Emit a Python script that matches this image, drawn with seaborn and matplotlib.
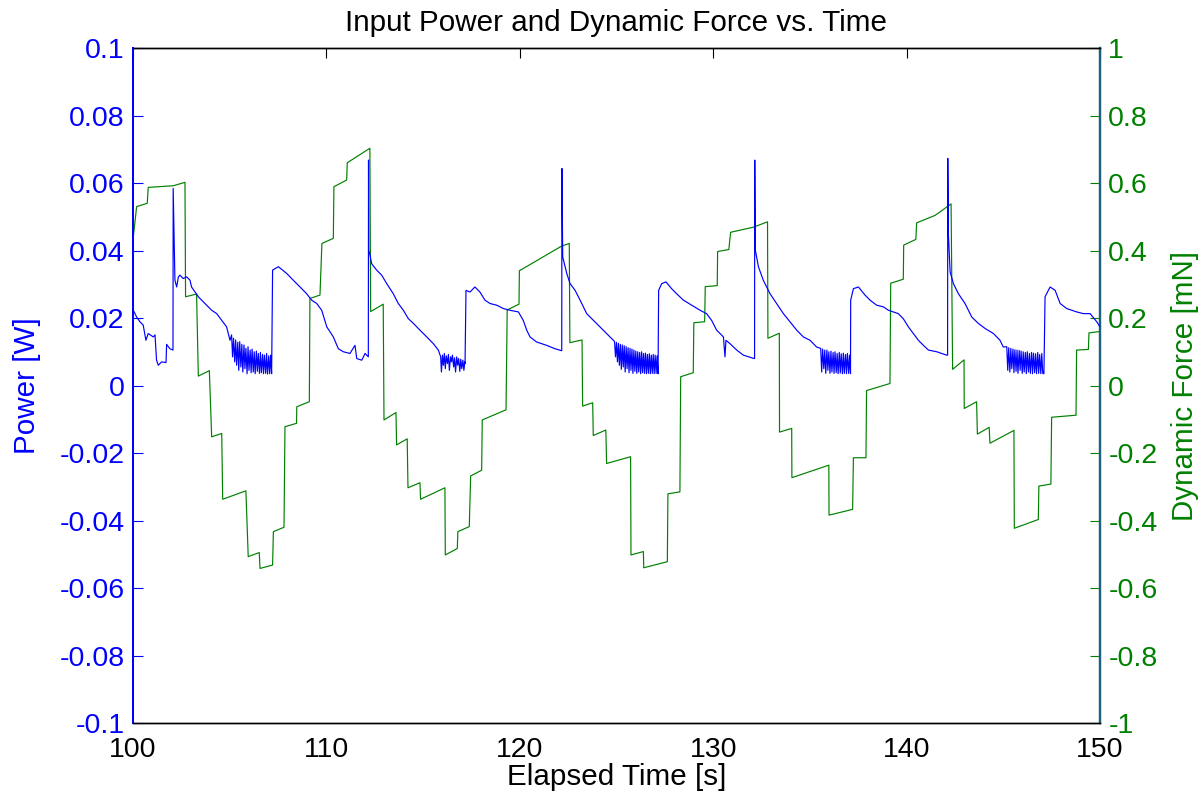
import matplotlib
matplotlib.use("Agg")
import matplotlib.pyplot as plt
import seaborn as sns
import pandas as pd
import numpy as np

# ---------------- data ----------------
force_time = [100.0, 100.19, 100.74, 100.79, 102.09, 102.69, 102.72, 103.29, 103.38, 103.95,
              104.07, 104.59, 104.64, 105.84, 105.96, 106.53, 106.57, 107.22, 107.26, 107.81,
              107.86, 108.46, 108.47, 109.12, 109.15, 109.67, 109.77, 110.36, 110.39, 111.05,
              111.08, 112.25, 112.29, 112.94, 112.98, 113.60, 113.63, 114.18, 114.22, 114.84,
              114.87, 116.13, 116.15, 116.77, 116.80, 117.39, 117.46, 118.03, 118.06, 119.29,
              119.35, 119.96, 119.98, 122.16, 122.56, 122.59, 123.22, 123.25, 123.77, 123.80,
              124.45, 124.49, 125.73, 125.75, 126.39, 126.41, 127.63, 127.66, 128.28, 128.32,
              128.97, 129.00, 129.56, 129.59, 130.21, 130.23, 130.81, 130.90, 132.07, 132.81,
              132.83, 133.42, 133.43, 134.06, 134.07, 135.98, 135.99, 137.21, 137.25, 137.90,
              137.93, 139.14, 139.18, 139.83, 139.85, 140.48, 140.52, 141.47, 142.30, 142.38,
              142.97, 142.98, 143.62, 143.66, 144.27, 144.31, 145.55, 145.57, 146.81, 146.84,
              147.46, 147.50, 148.76, 148.79, 149.40, 149.43, 150.0]
force_value = [0.431, 0.530, 0.540, 0.587, 0.592, 0.602, 0.263, 0.271, 0.028, 0.044,
               -0.152, -0.142, -0.337, -0.312, -0.507, -0.495, -0.542, -0.532, -0.433, -0.420,
               -0.122, -0.112, -0.063, -0.048, 0.258, 0.268, 0.421, 0.436, 0.589, 0.609,
               0.660, 0.703, 0.219, 0.241, -0.102, -0.080, -0.176, -0.158, -0.303, -0.288,
               -0.337, -0.303, -0.502, -0.483, -0.433, -0.418, -0.268, -0.251, -0.102, -0.072,
               0.224, 0.241, 0.340, 0.413, 0.421, 0.127, 0.135, -0.061, -0.051, -0.148,
               -0.132, -0.231, -0.211, -0.502, -0.492, -0.540, -0.522, -0.321, -0.315, 0.026,
               0.038, 0.186, 0.189, 0.293, 0.296, 0.397, 0.403, 0.454, 0.469, 0.485,
               0.140, 0.155, -0.138, -0.127, -0.273, -0.236, -0.384, -0.367, -0.214, -0.214,
               -0.015, 0.006, 0.303, 0.315, 0.416, 0.433, 0.482, 0.504, 0.538, 0.048,
               0.076, -0.068, -0.048, -0.144, -0.124, -0.171, -0.133, -0.423, -0.397, -0.298,
               -0.292, -0.094, -0.088, 0.105, 0.107, 0.156, 0.160]

power_time = [
    # cycle 1
    100.0, 100.02, 100.19, 100.36, 100.53, 100.67, 100.79, 101.05, 101.14, 101.22, 101.31,
    101.48, 101.71, 101.74, 101.91, 102.07, 102.08, 102.17, 102.26, 102.35, 102.43, 102.60,
    102.78, 102.95, 103.03, 103.21, 103.38, 103.55, 103.81, 104.07, 104.33, 104.59, 104.84,
    105.02, 105.10, 105.15, 105.20, 105.26, 105.31, 105.36, 105.42, 105.47, 105.52, 105.58,
    105.63, 105.68, 105.74, 105.79, 105.84, 105.90, 105.95, 106.00, 106.06, 106.11, 106.16,
    106.22, 106.27, 106.32, 106.38, 106.43, 106.48, 106.54, 106.59, 106.64, 106.70, 106.75,
    106.80, 106.86, 106.91, 106.96, 107.02, 107.07, 107.12, 107.17,
    107.22, 107.52, 107.95, 108.29, 108.64, 108.98, 109.24, 109.50, 109.76, 110.02, 110.36,
    110.62, 110.88, 111.22, 111.48, 111.57, 111.83, 112.00, 112.17, 112.18, 112.19,
    112.26, 112.34, 112.60,
    # cycle 2
    112.86, 113.12, 113.46, 113.72, 113.98, 114.24, 114.50, 114.84, 115.19, 115.53, 115.79,
    115.91, 115.95, 116.00, 116.05, 116.10, 116.15, 116.20, 116.26, 116.31, 116.36, 116.42,
    116.47, 116.52, 116.58, 116.63, 116.68, 116.74, 116.79, 116.84, 116.90, 116.95, 117.00,
    117.06, 117.11, 117.16, 117.17,
    117.22, 117.43, 117.68, 117.94, 118.20, 118.46, 118.81, 119.15, 119.49, 119.93, 120.18,
    120.36, 120.53, 120.87, 121.39, 121.82, 122.17, 122.18, 122.22, 122.43, 122.60, 122.86,
    123.12, 123.46, 123.81, 124.15, 124.49, 124.84,
    124.90, 124.95, 125.00, 125.05, 125.10, 125.15, 125.20, 125.25, 125.30, 125.35, 125.40,
    125.45, 125.50, 125.55, 125.60, 125.65, 125.70, 125.75, 125.80, 125.85, 125.90, 125.95,
    126.00, 126.05, 126.10, 126.15, 126.20, 126.25, 126.30, 126.35, 126.40, 126.45, 126.50,
    126.55, 126.60, 126.65, 126.70, 126.75, 126.80, 126.85, 126.90, 126.95, 127.00, 127.05,
    127.10, 127.15,
    # cycle 3
    127.18, 127.34, 127.56, 127.85, 128.11, 128.46, 128.89, 129.32, 129.66, 129.92, 130.18,
    130.53, 130.61, 130.66, 130.87, 131.22, 131.56, 132.11, 132.14, 132.15, 132.18, 132.34,
    132.59, 132.94, 133.28, 133.63, 133.97, 134.32, 134.66, 135.01, 135.35,
    135.56, 135.61, 135.66, 135.72, 135.77, 135.82, 135.88, 135.93, 135.98, 136.04, 136.09,
    136.14, 136.20, 136.25, 136.30, 136.36, 136.41, 136.46, 136.52, 136.57, 136.62, 136.68,
    136.73, 136.78, 136.84, 136.89, 136.94, 137.00, 137.05, 137.10,
    137.11, 137.25, 137.51, 137.85, 138.11, 138.45, 138.80, 139.06, 139.32, 139.57, 139.83,
    140.09, 140.35, 140.61, 140.87, 141.13, 141.56, 142.07, 142.12, 142.13, 142.16, 142.25,
    142.42, 142.68, 143.02, 143.37, 143.71, 144.06, 144.49, 144.83, 145.00,
    145.18, 145.23, 145.28, 145.34, 145.39, 145.44, 145.50, 145.55, 145.60, 145.66, 145.71,
    145.76, 145.82, 145.87, 145.92, 145.98, 146.03, 146.08, 146.14, 146.19, 146.24, 146.30,
    146.35, 146.40, 146.46, 146.51, 146.56, 146.62, 146.67, 146.72, 146.78, 146.83, 146.88,
    146.94, 146.99, 147.04, 147.10,
    147.16, 147.42, 147.68, 147.94, 148.28, 148.80, 149.14, 149.49, 149.83, 150.0]
power_value = [
    0.0215, 0.0223, 0.0203, 0.0189, 0.0179, 0.0134, 0.0154, 0.0144, 0.0150, 0.0075, 0.0060,
    0.0070, 0.0068, 0.0122, 0.0109, 0.0105, 0.0584, 0.0312, 0.0292, 0.0322, 0.0327, 0.0317,
    0.0322, 0.0312, 0.0292, 0.0277, 0.0263, 0.0253, 0.0238, 0.0223, 0.0213, 0.0193, 0.0174,
    0.0134, 0.0150, 0.0085, 0.0140, 0.0070, 0.0135, 0.0060, 0.0128, 0.0045, 0.0130, 0.0055,
    0.0122, 0.0040, 0.0120, 0.0050, 0.0110, 0.0035, 0.0115, 0.0045, 0.0105, 0.0038, 0.0108,
    0.0040, 0.0100, 0.0035, 0.0102, 0.0042, 0.0095, 0.0036, 0.0098, 0.0038, 0.0092, 0.0035,
    0.0090, 0.0036, 0.0095, 0.0034, 0.0088, 0.0035, 0.0090, 0.0035,
    0.0342, 0.0352, 0.0332, 0.0312, 0.0292, 0.0272, 0.0253, 0.0243, 0.0223, 0.0174, 0.0144,
    0.0109, 0.0100, 0.0095, 0.0119, 0.0080, 0.0075, 0.0095, 0.0085, 0.0668, 0.0401,
    0.0386, 0.0361, 0.0342,
    0.0327, 0.0302, 0.0272, 0.0243, 0.0223, 0.0198, 0.0184, 0.0164, 0.0144, 0.0124, 0.0105,
    0.0085, 0.0040, 0.0090, 0.0060, 0.0095, 0.0050, 0.0088, 0.0065, 0.0092, 0.0045, 0.0085,
    0.0070, 0.0090, 0.0055, 0.0082, 0.0040, 0.0085, 0.0060, 0.0080, 0.0042, 0.0078, 0.0050,
    0.0075, 0.0045, 0.0070, 0.0065,
    0.0282, 0.0277, 0.0292, 0.0277, 0.0253, 0.0243, 0.0238, 0.0228, 0.0223, 0.0218, 0.0193,
    0.0164, 0.0144, 0.0129, 0.0119, 0.0109, 0.0103, 0.0643, 0.0381, 0.0332, 0.0302, 0.0282,
    0.0253, 0.0213, 0.0193, 0.0174, 0.0154, 0.0134,
    0.0130, 0.0085, 0.0128, 0.0070, 0.0125, 0.0060, 0.0122, 0.0048, 0.0120, 0.0055, 0.0118,
    0.0040, 0.0115, 0.0050, 0.0112, 0.0038, 0.0110, 0.0045, 0.0108, 0.0036, 0.0105, 0.0042,
    0.0102, 0.0036, 0.0100, 0.0040, 0.0098, 0.0035, 0.0100, 0.0038, 0.0095, 0.0036, 0.0096,
    0.0035, 0.0092, 0.0036, 0.0094, 0.0035, 0.0090, 0.0036, 0.0092, 0.0035, 0.0090, 0.0036,
    0.0088, 0.0035,
    0.0282, 0.0302, 0.0307, 0.0287, 0.0272, 0.0253, 0.0238, 0.0223, 0.0213, 0.0193, 0.0164,
    0.0144, 0.0085, 0.0134, 0.0124, 0.0105, 0.0090, 0.0080, 0.0080, 0.0668, 0.0401, 0.0352,
    0.0312, 0.0272, 0.0243, 0.0213, 0.0189, 0.0164, 0.0144, 0.0134, 0.0114,
    0.0110, 0.0040, 0.0108, 0.0050, 0.0105, 0.0036, 0.0105, 0.0045, 0.0100, 0.0036, 0.0102,
    0.0040, 0.0098, 0.0036, 0.0100, 0.0038, 0.0095, 0.0035, 0.0098, 0.0037, 0.0094, 0.0035,
    0.0096, 0.0036, 0.0092, 0.0035, 0.0095, 0.0036, 0.0090, 0.0035,
    0.0253, 0.0287, 0.0292, 0.0268, 0.0253, 0.0238, 0.0233, 0.0223, 0.0218, 0.0213, 0.0198,
    0.0174, 0.0154, 0.0134, 0.0119, 0.0105, 0.0100, 0.0090, 0.0090, 0.0673, 0.0450, 0.0337,
    0.0302, 0.0272, 0.0243, 0.0203, 0.0184, 0.0169, 0.0154, 0.0134, 0.0114,
    0.0115, 0.0045, 0.0112, 0.0040, 0.0110, 0.0050, 0.0108, 0.0038, 0.0106, 0.0042, 0.0105,
    0.0036, 0.0104, 0.0045, 0.0102, 0.0036, 0.0100, 0.0040, 0.0098, 0.0035, 0.0100, 0.0040,
    0.0095, 0.0036, 0.0098, 0.0035, 0.0096, 0.0038, 0.0094, 0.0035, 0.0098, 0.0036, 0.0092,
    0.0035, 0.0095, 0.0036, 0.0035,
    0.0263, 0.0292, 0.0282, 0.0243, 0.0228, 0.0218, 0.0213, 0.0213, 0.0189, 0.0174]

power_ticks = [-0.1, -0.08, -0.06, -0.04, -0.02, 0, 0.02, 0.04, 0.06, 0.08, 0.1]
power_tick_labels = ["-0.1", "-0.08", "-0.06", "-0.04", "-0.02", "0", "0.02", "0.04", "0.06", "0.08", "0.1"]
force_ticks = [-1, -0.8, -0.6, -0.4, -0.2, 0, 0.2, 0.4, 0.6, 0.8, 1]
force_tick_labels = ["-1", "-0.8", "-0.6", "-0.4", "-0.2", "0", "0.2", "0.4", "0.6", "0.8", "1"]
time_ticks = [100, 110, 120, 130, 140, 150]
time_tick_labels = ["100", "110", "120", "130", "140", "150"]

# ---------------- style ----------------
sns.set_theme(style="white")
plt.rcParams["font.family"] = ["Liberation Sans", "DejaVu Sans"]

BLUE = "#0000ff"
GREEN = "#008000"
RSPINE = "#1f5f7a"
TICK_FS = 20.5
LABEL_FS = 21.3

fig = plt.figure(figsize=(12.01, 7.99), dpi=100)
ax = fig.add_axes([0.1107, 0.0951, 0.8052, 0.8448])
ax2 = ax.twinx()

power_df = pd.DataFrame({"time": power_time, "power": power_value})
force_df = pd.DataFrame({"time": force_time, "force": force_value})

sns.lineplot(data=power_df, x="time", y="power", ax=ax, color=BLUE, linewidth=0.85,
             estimator=None, sort=False, zorder=3)
sns.lineplot(data=force_df, x="time", y="force", ax=ax2, color=GREEN, linewidth=0.85,
             estimator=None, sort=False)

# left axis
ax.set_xlim(100, 150)
ax.set_ylim(-0.1, 0.1)
ax.set_xticks(time_ticks)
ax.set_xticklabels(time_tick_labels)
ax.set_yticks(power_ticks)
ax.set_yticklabels(power_tick_labels)
ax.tick_params(axis="x", direction="in", length=7, width=0.8, colors="black",
               labelsize=TICK_FS, top=True, pad=10)
ax.tick_params(axis="y", direction="in", length=7, width=0.8, colors=BLUE,
               labelsize=TICK_FS, pad=6, right=False)
ax.set_xlabel("Elapsed Time [s]", fontsize=LABEL_FS, color="black", labelpad=0)
ax.set_ylabel("Power [W]", fontsize=LABEL_FS, color=BLUE, labelpad=13)
ax.set_title("Input Power and Dynamic Force vs. Time", fontsize=LABEL_FS, color="black", pad=12)

# right axis
ax2.set_ylim(-1, 1)
ax2.set_yticks(force_ticks)
ax2.set_yticklabels(force_tick_labels)
ax2.tick_params(axis="y", direction="in", length=7, width=0.8, colors=GREEN,
                labelsize=TICK_FS, pad=6)
ax2.set_ylabel("Dynamic Force [mN]", fontsize=LABEL_FS, color=GREEN, labelpad=10)
ax2.yaxis.set_label_position("right")

for a in (ax, ax2):
    a.set_facecolor("none")
    for s in a.spines.values():
        s.set_linewidth(1.0)
        s.set_color("black")
ax.spines["left"].set_color(BLUE)
ax2.spines["left"].set_color(BLUE)
ax.spines["right"].set_color(RSPINE)
ax2.spines["right"].set_color(RSPINE)
ax.spines["right"].set_linewidth(1.6)
ax2.spines["right"].set_linewidth(1.6)
ax.spines["left"].set_linewidth(1.4)
ax2.spines["left"].set_linewidth(1.4)
ax.set_zorder(ax2.get_zorder() + 1)
ax.patch.set_visible(False)
fig.patch.set_facecolor("white")

fig.savefig("out.png", dpi=100, facecolor="white")
